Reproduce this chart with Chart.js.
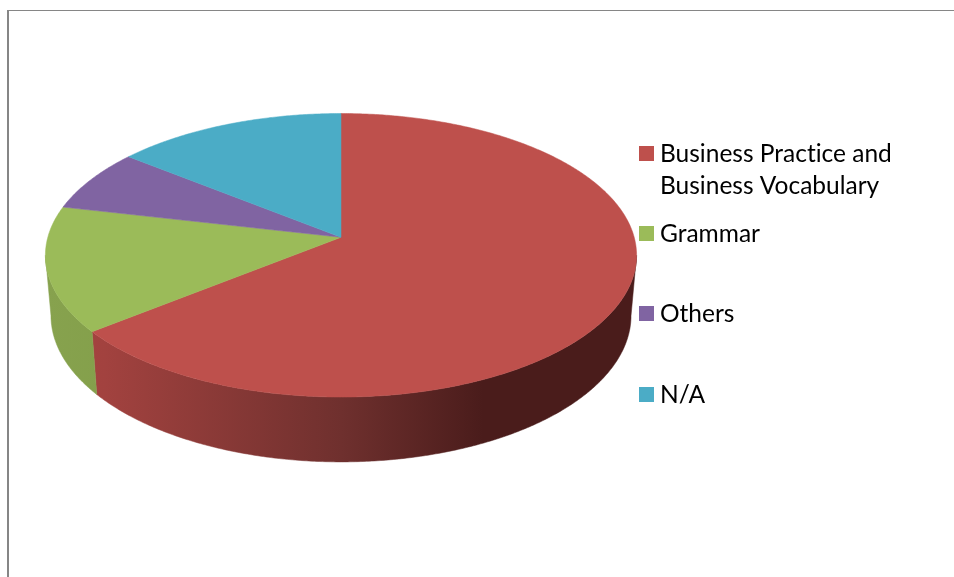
<!DOCTYPE html>
<html>
<head>
<meta charset="utf-8">
<title>Pie chart</title>
<script src="https://cdn.jsdelivr.net/npm/chart.js@4/dist/chart.umd.min.js"></script>
<style>
    html, body { margin: 0; padding: 0; background: #fff; overflow: hidden; }
    canvas { display: block; }
</style>
</head>
<body>
<canvas id="chart" width="954" height="577"></canvas>
<script>
const categories = ['Business Practice and Business Vocabulary', 'Grammar', 'Others', 'N/A'];
const legendLines = [['Business Practice and', 'Business Vocabulary'], ['Grammar'], ['Others'], ['N/A']];
const seriesValues = [9, 2, 1, 2];
const sliceColors = ['#BE504C', '#9BBB59', '#8064A2', '#4BACC6'];

// Side wall shading, left to right across the pie
const wallStops = [
    [[0, '#A7453F'], [0.1, '#A2423F'], [0.5, '#6F302E'], [0.74, '#4A1C1B'], [1, '#4A1C1B']],
    [[0, '#87A24E'], [0.1, '#84A04B']],
    [[0, '#6D5489'], [1, '#6D5489']],
    [[0, '#3F93A9'], [1, '#3F93A9']]
];

// Tilted disc: unit circle projected with a little perspective.
// The lower rim has its own size because it sits further from the eye.
const disc = {
    cx: 341, k: 0.1268,
    top: { y: 237.3, a: 293.2, b: 139.5 },
    bottom: { y: 297, a: 287.7, b: 144 }
};

function rimPoint(angle, rim) {
    const x = Math.cos(angle);
    const y = -Math.sin(angle);
    const w = 1 + disc.k * y;
    return { x: disc.cx + rim.a * x / w, y: rim.y - rim.b * y / w };
}

function traceRim(ctx, from, to, rim) {
    const steps = Math.max(2, Math.ceil(Math.abs(to - from) * 120));
    for (let i = 0; i <= steps; i++) {
        const p = rimPoint(from + (to - from) * i / steps, rim);
        ctx.lineTo(p.x, p.y);
    }
}

const tiltedPie = {
    id: 'tiltedPie',
    beforeDatasetsDraw(chart) {
        const ctx = chart.ctx;
        const arcs = chart.getDatasetMeta(0).data;
        // only the part of the rim facing the viewer has a visible wall
        const frontStart = Math.asin(disc.k);
        const frontEnd = Math.PI - frontStart;

        arcs.forEach((arc, i) => {
            const from = Math.max(arc.startAngle, frontStart);
            const to = Math.min(arc.endAngle, frontEnd);
            if (to <= from) return;
            const fill = ctx.createLinearGradient(46, 0, 637, 0);
            wallStops[i].forEach(s => fill.addColorStop(s[0], s[1]));
            ctx.beginPath();
            traceRim(ctx, from, to, disc.top);
            traceRim(ctx, to, from, disc.bottom);
            ctx.closePath();
            ctx.fillStyle = fill;
            ctx.strokeStyle = fill;
            ctx.lineWidth = 0.5;
            ctx.fill();
            ctx.stroke();
        });

        arcs.forEach((arc, i) => {
            ctx.beginPath();
            ctx.moveTo(disc.cx, disc.top.y);
            traceRim(ctx, arc.startAngle, arc.endAngle, disc.top);
            ctx.closePath();
            ctx.fillStyle = sliceColors[i];
            ctx.strokeStyle = sliceColors[i];
            ctx.lineWidth = 0.5;
            ctx.fill();
            ctx.stroke();
        });
        return false;
    }
};

const sideLegend = {
    id: 'sideLegend',
    afterDraw(chart) {
        const ctx = chart.ctx;
        const swatchTops = [146, 226, 306, 387];
        ctx.save();
        ctx.font = '24.5px Lato';
        ctx.textRendering = 'optimizeSpeed'; // no "ti" ligature in Practice
        ctx.textBaseline = 'alphabetic';
        legendLines.forEach((lines, i) => {
            ctx.fillStyle = sliceColors[i];
            ctx.fillRect(639, swatchTops[i], 15, 15);
            ctx.fillStyle = '#000';
            lines.forEach((line, n) => {
                ctx.fillText(line, 660, swatchTops[i] + 16 + n * 32);
            });
        });
        ctx.restore();
    }
};

const frame = {
    id: 'frame',
    beforeDraw(chart) {
        const ctx = chart.ctx;
        ctx.fillStyle = '#868686';
        ctx.fillRect(7, 10, 947, 1);
        ctx.fillRect(7, 10, 2, 567);
    }
};

new Chart(document.getElementById('chart'), {
    type: 'pie',
    data: {
        labels: categories,
        datasets: [{ data: seriesValues, backgroundColor: sliceColors, borderWidth: 0 }]
    },
    options: {
        responsive: false,
        animation: false,
        devicePixelRatio: 1,
        plugins: { legend: { display: false }, tooltip: { enabled: false } }
    },
    plugins: [frame, tiltedPie, sideLegend]
});
</script>
</body>
</html>
